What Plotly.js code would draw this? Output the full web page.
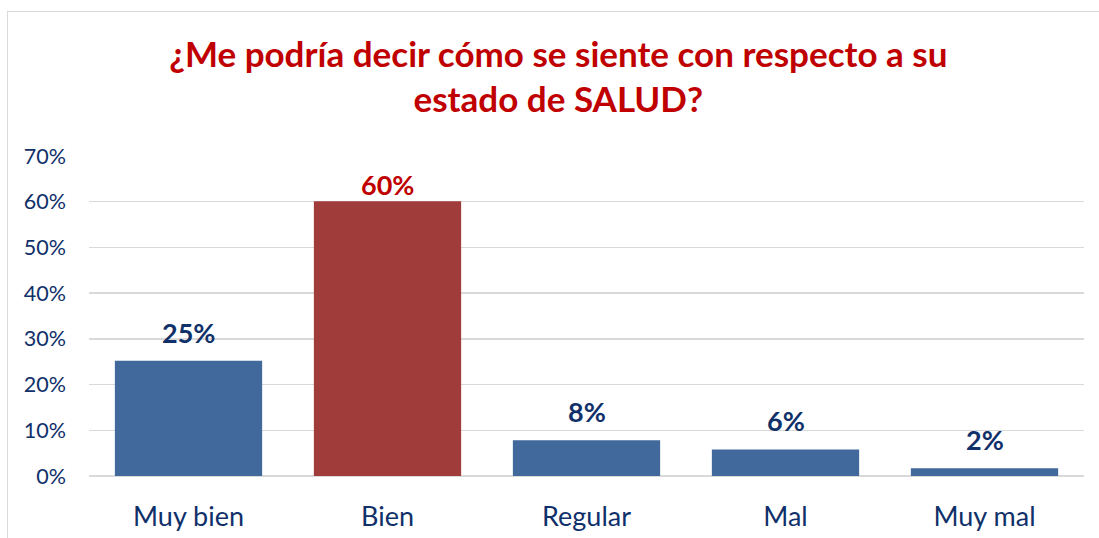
<!DOCTYPE html>
<html>
<head>
<meta charset="utf-8">
<script src="https://cdn.plot.ly/plotly-3.0.1.min.js"></script>
<style>
  html, body { margin: 0; padding: 0; background: #fff; }
  #wrap { position: relative; width: 1099px; height: 538px; }
  #frame { position: absolute; left: 7px; top: 11px; right: 0; bottom: 0;
           border-left: 1px solid #d9d9d9; border-top: 1px solid #d9d9d9; pointer-events: none; }
  #chart { position: absolute; left: 0; top: 0; width: 1099px; height: 538px; }
</style>
</head>
<body>
<div id="wrap">
  <div id="chart"></div>
  <div id="frame"></div>
</div>
<script>
const categories = ["Muy bien", "Bien", "Regular", "Mal", "Muy mal"];
const values = [25.2, 60.1, 7.8, 5.8, 1.7];
const valueLabels = ["25%", "60%", "8%", "6%", "2%"];
const barColors = ["#41699B", "#A03C3A", "#41699B", "#41699B", "#41699B"];
const labelColors = ["#10306A", "#C00000", "#10306A", "#10306A", "#10306A"];
const tickVals = [0, 10, 20, 30, 40, 50, 60, 70];
const tickText = ["0%", "10%", "20%", "30%", "40%", "50%", "60%", "70%"];

const H = 538, M_T = 156, M_B = 62, Y_MAX = 70;
const plotH = H - M_T - M_B;

const trace = {
  type: "bar",
  x: categories,
  y: values,
  marker: { color: barColors, line: { width: 0 } },
  hoverinfo: "skip"
};

// keep labels inside the plot area (as the original does for the tallest bar)
const annotations = categories.map((c, i) => {
  const barTopFromPlotTop = plotH * (1 - values[i] / Y_MAX);
  return {
    x: c, y: values[i], xref: "x", yref: "y",
    text: valueLabels[i], showarrow: false,
    yanchor: "bottom", yshift: Math.min(10, barTopFromPlotTop - 47),
    font: { family: "Lato, 'Open Sans', sans-serif", size: 27, color: labelColors[i], weight: "bold" }
  };
});

const layout = {
  width: 1099, height: H,
  margin: { l: 89, r: 15, t: M_T, b: M_B },
  paper_bgcolor: "#ffffff", plot_bgcolor: "#ffffff",
  showlegend: false,
  bargap: 0.26,
  title: {
    text: "<b>¿Me podría decir cómo se siente con respecto a su<br>estado de SALUD?</b>",
    font: { family: "Lato, 'Open Sans', sans-serif", size: 35, color: "#C00000" },
    x: 0.508, xanchor: "center", y: 0.876, yanchor: "middle", yref: "container"
  },
  xaxis: {
    type: "category",
    tickfont: { family: "Lato, 'Open Sans', sans-serif", size: 27, color: "#10306A" },
    showgrid: false, zeroline: false, showline: false, ticks: "",
    ticklabelstandoff: 22, fixedrange: true
  },
  yaxis: {
    range: [0, Y_MAX],
    tickvals: tickVals, ticktext: tickText,
    tickfont: { family: "Lato, 'Open Sans', sans-serif", size: 21.5, color: "#10306A" },
    showgrid: true, gridcolor: "#d9d9d9", gridwidth: 1.5,
    zeroline: true, zerolinecolor: "#d9d9d9", zerolinewidth: 2,
    showline: false, ticks: "", ticklabelstandoff: 22, fixedrange: true
  },
  annotations: annotations
};

Plotly.newPlot("chart", [trace], layout, { displayModeBar: false, staticPlot: true });
</script>
</body>
</html>
